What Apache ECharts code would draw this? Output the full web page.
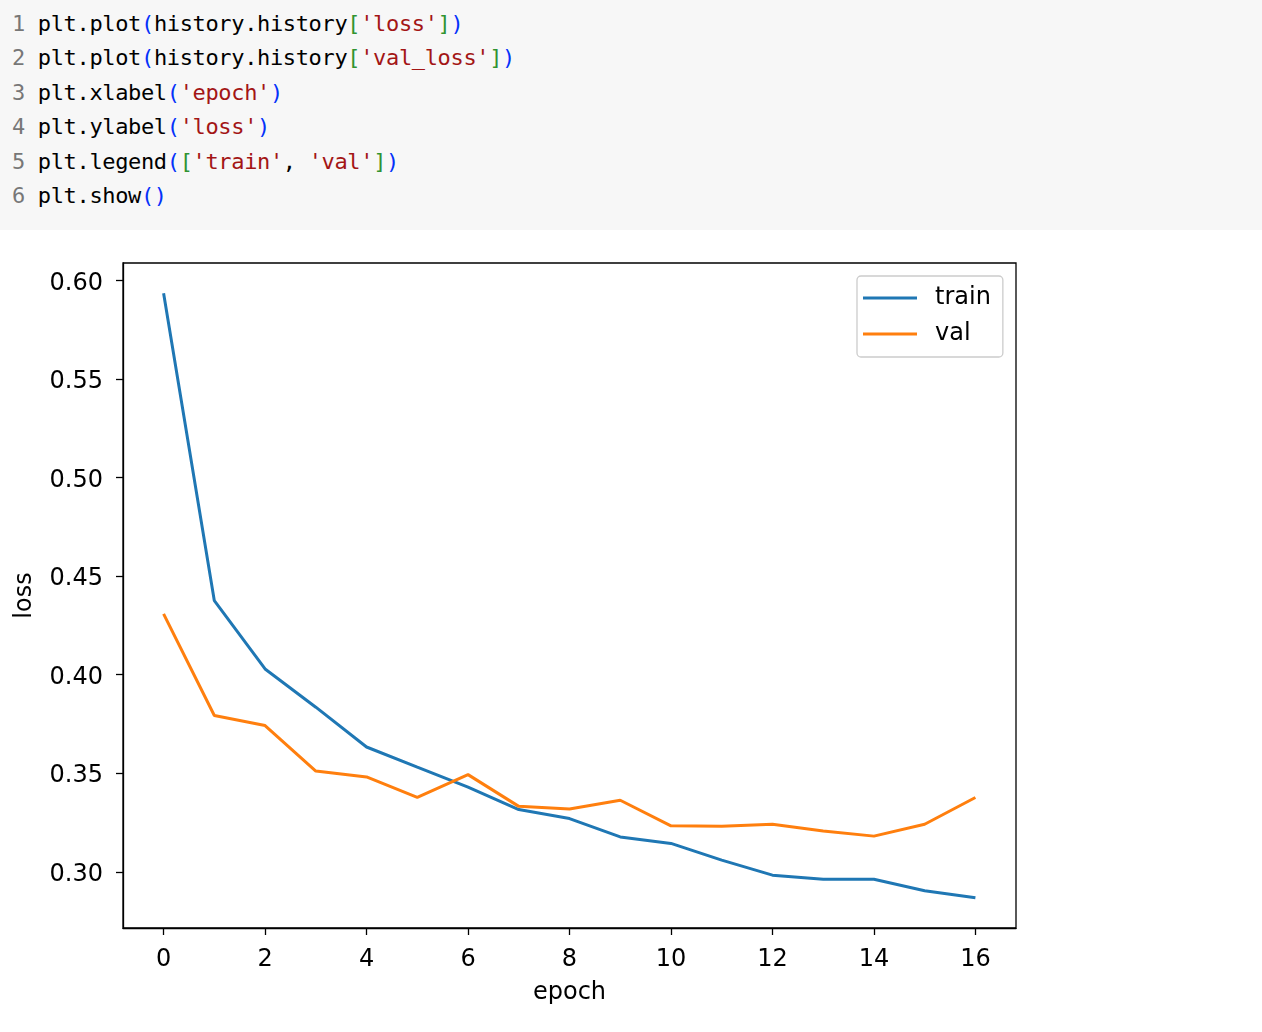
<!DOCTYPE html>
<html>
<head>
<meta charset="utf-8">
<script src="https://cdn.jsdelivr.net/npm/echarts@6/dist/echarts.min.js"></script>
<style>
html,body{margin:0;padding:0;background:#fff;width:1262px;height:1032px;overflow:hidden;}
#code{position:absolute;left:0;top:0;width:1262px;height:230px;background:#f7f7f7;z-index:2;
  font-family:"DejaVu Sans Mono",monospace;font-size:22px;letter-spacing:-0.35px;line-height:34.4px;
  padding-top:7px;box-sizing:border-box;white-space:pre;color:#000;}
#code .ln{color:#777;}
#code .p{color:#0431fa;}
#code .b{color:#319331;}
#code .s{color:#a31515;}
#code div{padding-left:12px;}
#chart{position:absolute;left:0;top:0;width:1262px;height:1032px;z-index:1;}
</style>
</head>
<body>
<div id="code"><div><span class="ln">1</span> plt.plot<span class="p">(</span>history.history<span class="b">[</span><span class="s">'loss'</span><span class="b">]</span><span class="p">)</span></div><div><span class="ln">2</span> plt.plot<span class="p">(</span>history.history<span class="b">[</span><span class="s">'val_loss'</span><span class="b">]</span><span class="p">)</span></div><div><span class="ln">3</span> plt.xlabel<span class="p">(</span><span class="s">'epoch'</span><span class="p">)</span></div><div><span class="ln">4</span> plt.ylabel<span class="p">(</span><span class="s">'loss'</span><span class="p">)</span></div><div><span class="ln">5</span> plt.legend<span class="p">(</span><span class="b">[</span><span class="s">'train'</span>, <span class="s">'val'</span><span class="b">]</span><span class="p">)</span></div><div><span class="ln">6</span> plt.show<span class="p">()</span></div></div>
<div id="chart"></div>
<script>
var epochs = [0,1,2,3,4,5,6,7,8,9,10,11,12,13,14,15,16];
var trainLoss = [0.5935,0.4375,0.4029,0.3835,0.3633,0.3531,0.3430,0.3316,0.3270,0.3177,0.3144,0.3059,0.2983,0.2962,0.2962,0.2904,0.2868];
var valLoss = [0.4308,0.3793,0.3742,0.3511,0.3481,0.3377,0.3493,0.3332,0.3319,0.3363,0.3233,0.3231,0.3241,0.3207,0.3181,0.3241,0.3377];
var xTicks = [0,2,4,6,8,10,12,14,16];
var yTicks = [0.30,0.35,0.40,0.45,0.50,0.55,0.60];
var seriesNames = ['train','val'];

var font = 'DejaVu Sans';
var chart = echarts.init(document.getElementById('chart'));
function pairs(vals){ return epochs.map(function(e,i){ return [e, vals[i]]; }); }
chart.setOption({
  animation:false,
  textStyle:{fontFamily:font},
  grid:{left:123,top:263,right:246,bottom:104,outerBoundsMode:'none',containLabel:false,
        show:true,borderColor:'#000',borderWidth:1.3,backgroundColor:'#fff'},
  legend:{
    orient:'vertical',left:857,top:276,
    data:seriesNames.map(function(n){return {name:n,icon:'rect'};}),
    itemWidth:54,itemHeight:3,itemGap:6,
    textStyle:{fontSize:24,color:'#000',fontFamily:font,lineHeight:26,padding:[4,0,0,13]},
    backgroundColor:'rgba(255,255,255,0.8)',borderColor:'#cccccc',borderWidth:1.3,borderRadius:4,
    padding:[7,12,8,6]
  },
  xAxis:{
    type:'value',min:-0.8,max:16.8,
    name:'epoch',nameLocation:'middle',nameGap:53,
    nameTextStyle:{fontSize:24,color:'#000',fontFamily:font},
    axisLine:{show:true,onZero:false,lineStyle:{color:'#000',width:1.3}},
    axisTick:{show:true,length:7,customValues:xTicks,lineStyle:{color:'#000',width:1.3}},
    axisLabel:{customValues:xTicks,fontSize:24,color:'#000',margin:20,fontFamily:font},
    splitLine:{show:false}
  },
  yAxis:{
    type:'value',min:0.2715,max:0.6088,
    name:'loss',nameLocation:'middle',nameGap:86,nameRotate:90,
    nameTextStyle:{fontSize:24,color:'#000',fontFamily:font},
    axisLine:{show:true,onZero:false,lineStyle:{color:'#000',width:1.3}},
    axisTick:{show:true,length:7,customValues:yTicks,lineStyle:{color:'#000',width:1.3}},
    axisLabel:{customValues:yTicks,fontSize:24,color:'#000',margin:20,fontFamily:font,
      formatter:function(v){return '{t|' + v.toFixed(2) + '}';},
      rich:{t:{fontSize:24,color:'#000',fontFamily:font,padding:[6,0,0,0]}}},
    splitLine:{show:false}
  },
  series:[
    {name:seriesNames[0],type:'line',data:pairs(trainLoss),showSymbol:false,symbol:'none',
     lineStyle:{color:'#1f77b4',width:3},itemStyle:{color:'#1f77b4'}},
    {name:seriesNames[1],type:'line',data:pairs(valLoss),showSymbol:false,symbol:'none',
     lineStyle:{color:'#ff7f0e',width:3},itemStyle:{color:'#ff7f0e'}}
  ]
});
</script>
</body>
</html>
